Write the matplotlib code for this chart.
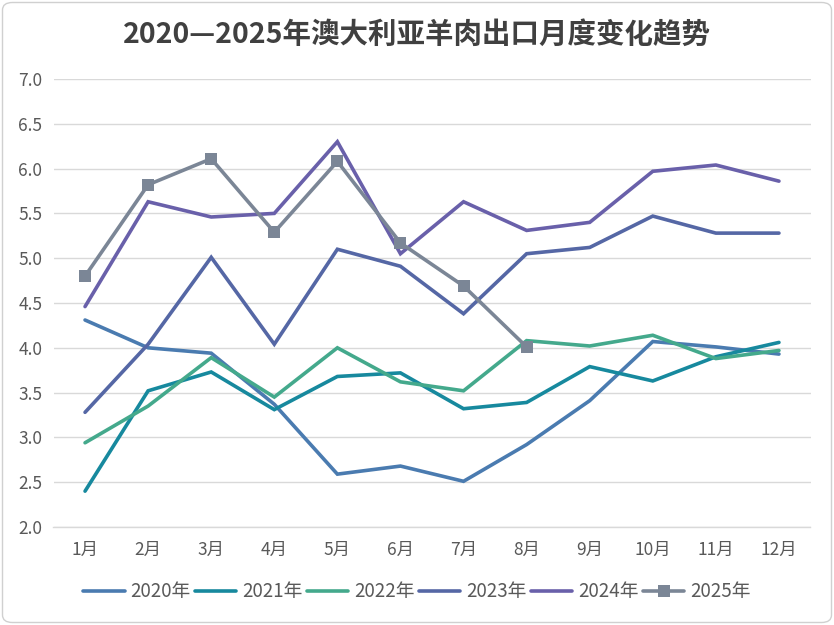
import matplotlib
matplotlib.use("Agg")
import matplotlib.pyplot as plt
from matplotlib.patches import FancyBboxPatch

plt.rcParams['font.family'] = ['Noto Sans CJK SC', 'DejaVu Sans']

months = ['1月', '2月', '3月', '4月', '5月', '6月', '7月', '8月', '9月', '10月', '11月', '12月']
y2020 = [4.31, 4.00, 3.94, 3.37, 2.59, 2.68, 2.51, 2.92, 3.41, 4.07, 4.01, 3.93]
y2021 = [2.40, 3.52, 3.73, 3.31, 3.68, 3.72, 3.32, 3.39, 3.79, 3.63, 3.90, 4.06]
y2022 = [2.94, 3.35, 3.89, 3.45, 4.00, 3.62, 3.52, 4.08, 4.02, 4.14, 3.88, 3.97]
y2023 = [3.28, 4.04, 5.01, 4.04, 5.10, 4.91, 4.38, 5.05, 5.12, 5.47, 5.28, 5.28]
y2024 = [4.46, 5.63, 5.46, 5.50, 6.30, 5.05, 5.63, 5.31, 5.40, 5.97, 6.04, 5.86]
y2025 = [4.80, 5.82, 6.11, 5.29, 6.08, 5.17, 4.69, 4.01]
series_names = ['2020年', '2021年', '2022年', '2023年', '2024年', '2025年']
yticks = [2.0, 2.5, 3.0, 3.5, 4.0, 4.5, 5.0, 5.5, 6.0, 6.5, 7.0]
title = '2020—2025年澳大利亚羊肉出口月度变化趋势'

colors = ['#4A7BB0', '#17899E', '#44A98C', '#5567A5', '#6960AA', '#7B8696']

fig = plt.figure(figsize=(8.34, 6.25), dpi=100)
border = FancyBboxPatch((0.003, 0.004), 0.994, 0.992, boxstyle='round,pad=0,rounding_size=0.012',
                        transform=fig.transFigure, facecolor='none', edgecolor='#D0D0D0',
                        linewidth=1.0, zorder=-1)
fig.patches.append(border)

W, H = 834, 625
left, right, top, bottom = 53.5, 810.5, 79, 527
ax = fig.add_axes([left / W, 1 - bottom / H, (right - left) / W, (bottom - top) / H])
ax.set_facecolor('none')

x = list(range(len(months)))
data = [y2020, y2021, y2022, y2023, y2024, y2025]
for i, (name, ys) in enumerate(zip(series_names, data)):
    kw = dict(color=colors[i], linewidth=2.6, label=name, solid_capstyle='round', solid_joinstyle='miter')
    if i == 5:
        kw.update(marker='s', markersize=8, markeredgewidth=0)
    ax.plot(x[:len(ys)], ys, **kw, zorder=3 + i)

ax.set_xlim(-0.5, len(months) - 0.5)
ax.set_ylim(2.0, 7.0)
ax.set_yticks(yticks)
ax.set_yticklabels([f'{v:.1f}' for v in yticks])
ax.set_xticks(x)
ax.set_xticklabels(months)
ax.grid(axis='y', color='#D9D9D9', linewidth=1.0, zorder=0)
ax.set_axisbelow(True)
for s in ['top', 'right', 'left']:
    ax.spines[s].set_visible(False)
ax.spines['bottom'].set_color('#D9D9D9')
ax.spines['bottom'].set_linewidth(1.0)
ax.tick_params(axis='both', length=0, labelsize=12.5, colors='#595959')
ax.tick_params(axis='x', pad=10)
ax.tick_params(axis='y', pad=8)

fig.text(0.5, 1 - 35 / H, title, ha='center', va='center', fontsize=20.5, fontweight='bold', color='#404040')

leg = fig.legend(loc='center', bbox_to_anchor=(0.5, 1 - 592 / H), ncol=6, frameon=False,
                 fontsize=13.5, handlelength=2.2, columnspacing=0.25, handletextpad=0.3)
for t in leg.get_texts():
    t.set_color('#595959')

fig.savefig('out.png', dpi=100)
